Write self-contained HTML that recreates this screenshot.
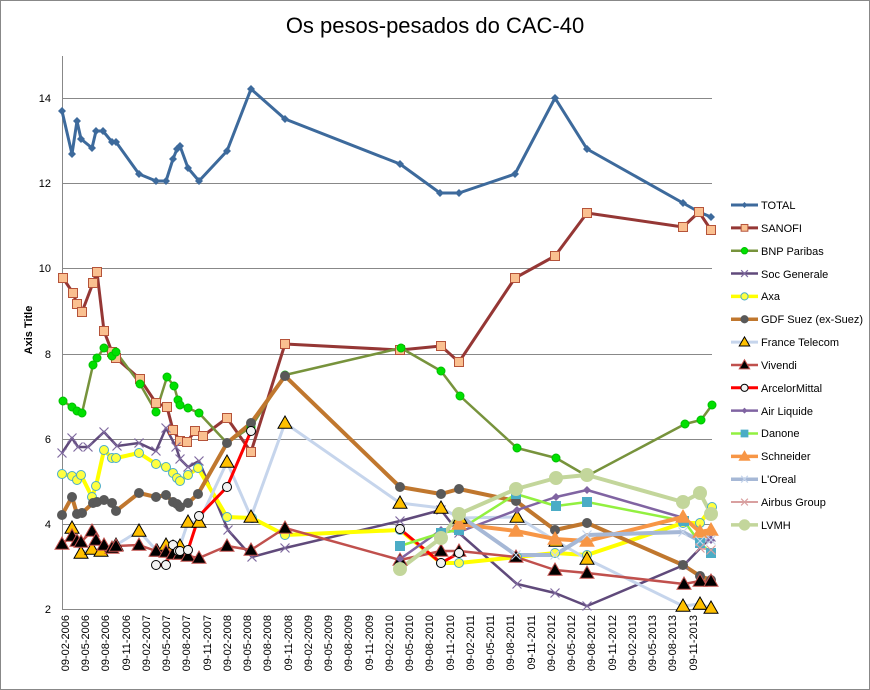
<!DOCTYPE html>
<html><head><meta charset="utf-8"><style>
html,body{margin:0;padding:0;background:#fff}
svg{display:block;font-family:"Liberation Sans",sans-serif}
</style></head><body>
<svg id="s" width="870" height="690" viewBox="0 0 870 690" xmlns="http://www.w3.org/2000/svg">
<rect x="0.5" y="0.5" width="869" height="689" fill="#fff" stroke="#888"/>
<text x="435" y="33" font-size="22" text-anchor="middle" fill="#000">Os pesos-pesados do CAC-40</text>
<text transform="translate(32,330) rotate(-90)" font-size="11" font-weight="bold" text-anchor="middle">Axis Title</text>
<g stroke="#888" stroke-width="1">
<line x1="62" y1="524.5" x2="712" y2="524.5"/><line x1="62" y1="439.5" x2="712" y2="439.5"/>
<line x1="62" y1="354.5" x2="712" y2="354.5"/><line x1="62" y1="268.5" x2="712" y2="268.5"/>
<line x1="62" y1="183.5" x2="712" y2="183.5"/><line x1="62" y1="98.5" x2="712" y2="98.5"/>
<line x1="62.5" y1="56" x2="62.5" y2="609"/><line x1="62" y1="609.5" x2="712" y2="609.5"/>
</g>
<g font-size="11" text-anchor="end" fill="#000">
<text x="51" y="613">2</text><text x="51" y="528">4</text><text x="51" y="443">6</text>
<text x="51" y="358">8</text><text x="51" y="272">10</text><text x="51" y="187">12</text><text x="51" y="102">14</text>
</g>
<g id="series"></g>
<g id="legend" font-size="11">
<text x="761" y="209">TOTAL</text><text x="761" y="232">SANOFI</text><text x="761" y="255">BNP Paribas</text>
<text x="761" y="278">Soc Generale</text><text x="761" y="300">Axa</text><text x="761" y="323">GDF Suez (ex-Suez)</text>
<text x="761" y="346">France Telecom</text><text x="761" y="369">Vivendi</text><text x="761" y="392">ArcelorMittal</text>
<text x="761" y="415">Air Liquide</text><text x="761" y="437">Danone</text><text x="761" y="460">Schneider</text>
<text x="761" y="483">L'Oreal</text><text x="761" y="506">Airbus Group</text><text x="761" y="529">LVMH</text>
</g>
<g font-size="11" text-anchor="end">
<text transform="translate(69,615) rotate(-90)">09-02-2006</text><text transform="translate(89,615) rotate(-90)">09-05-2006</text><text transform="translate(109,615) rotate(-90)">09-08-2006</text><text transform="translate(130,615) rotate(-90)">09-11-2006</text><text transform="translate(150,615) rotate(-90)">09-02-2007</text><text transform="translate(170,615) rotate(-90)">09-05-2007</text><text transform="translate(190,615) rotate(-90)">09-08-2007</text><text transform="translate(211,615) rotate(-90)">09-11-2007</text><text transform="translate(231,615) rotate(-90)">09-02-2008</text><text transform="translate(251,615) rotate(-90)">09-05-2008</text><text transform="translate(271,615) rotate(-90)">09-08-2008</text><text transform="translate(292,615) rotate(-90)">09-11-2008</text><text transform="translate(312,615) rotate(-90)">09-02-2009</text><text transform="translate(332,615) rotate(-90)">09-05-2009</text><text transform="translate(352,615) rotate(-90)">09-08-2009</text><text transform="translate(373,615) rotate(-90)">09-11-2009</text><text transform="translate(393,615) rotate(-90)">09-02-2010</text><text transform="translate(413,615) rotate(-90)">09-05-2010</text><text transform="translate(433,615) rotate(-90)">09-08-2010</text><text transform="translate(454,615) rotate(-90)">09-11-2010</text><text transform="translate(474,615) rotate(-90)">09-02-2011</text><text transform="translate(494,615) rotate(-90)">09-05-2011</text><text transform="translate(514,615) rotate(-90)">09-08-2011</text><text transform="translate(535,615) rotate(-90)">09-11-2011</text><text transform="translate(555,615) rotate(-90)">09-02-2012</text><text transform="translate(575,615) rotate(-90)">09-05-2012</text><text transform="translate(595,615) rotate(-90)">09-08-2012</text><text transform="translate(616,615) rotate(-90)">09-11-2012</text><text transform="translate(636,615) rotate(-90)">09-02-2013</text><text transform="translate(656,615) rotate(-90)">09-05-2013</text><text transform="translate(676,615) rotate(-90)">09-08-2013</text><text transform="translate(697,615) rotate(-90)">09-11-2013</text>
</g>
</svg>
<script>
var NS="http://www.w3.org/2000/svg";
var S=[
{c:"#3d6a9c",w:3,m:"d",mf:"#3d6a9c",ms:"#3d6a9c",p:[[62,111],[72,154],[77,121],[81,139],[92,148],[96,131],[103,131],[112,142],[116,142],[139,174],[156,181],[166,181],[173,159],[177,149],[180,146],[188,168],[199,181],[227,151],[251,89],[285,119],[400,164],[440,193],[459,193],[515,174],[555,98],[587,149],[683,203],[699,212],[711,217]]},
{c:"#953735",w:3,m:"s",mf:"#fac090",ms:"#b5533a",p:[[63,278],[73,293],[77,304],[82,312],[93,283],[97,272],[104,331],[112,352],[116,358],[140,379],[156,403],[167,407],[173,430],[180,441],[187,442],[195,431],[203,436],[227,418],[251,452],[285,344],[400,350],[441,346],[459,362],[515,278],[555,256],[587,213],[683,227],[699,212],[711,230]]},
{c:"#77933c",w:2.5,m:"c",r:4,mf:"#00e000",ms:"#00c000",p:[[63,401],[72,407],[77,411],[82,413],[93,365],[97,358],[104,348],[112,356],[116,352],[140,384],[156,412],[167,377],[174,386],[178,400],[180,405],[188,408],[199,413],[227,443],[251,427],[285,375],[401,348],[441,371],[460,396],[517,448],[556,458],[587,476],[685,424],[701,420],[712,405]]},
{c:"#604a7b",w:2.5,m:"x",mf:"none",ms:"#7f6aa0",p:[[62,453],[72,438],[78,447],[88,447],[104,432],[117,446],[139,443],[156,451],[166,428],[176,447],[180,459],[188,467],[199,461],[228,530],[252,557],[285,548],[400,521],[441,510],[459,533],[517,584],[555,593],[587,606],[684,565],[711,537]]},
{c:"#ffff00",w:4,m:"c",r:4.5,mf:"#ffff40",ms:"#4bacc6",p:[[62,474],[72,476],[77,480],[81,475],[92,497],[96,486],[104,450],[112,458],[116,458],[139,453],[156,464],[166,467],[173,473],[177,478],[180,481],[188,475],[198,468],[227,517],[252,518],[285,535],[400,530],[441,563],[459,563],[517,557],[555,553],[587,555],[683,523],[700,523],[712,507]]},
{c:"#c0772e",w:4,m:"c",r:4.5,mf:"#595959",ms:"#595959",p:[[62,515],[72,497],[77,514],[82,513],[93,503],[97,502],[104,500],[112,503],[116,511],[139,493],[156,497],[166,495],[173,502],[177,504],[180,507],[188,503],[198,494],[227,443],[251,423],[285,376],[400,487],[441,494],[459,489],[516,501],[555,530],[587,523],[683,565],[700,576],[711,580]]},
{c:"#c6d5ec",w:3,m:"t",mf:"#ffc000",ms:"#000",p:[[72,528],[81,553],[92,549],[101,551],[116,545],[139,531],[157,551],[166,545],[173,547],[180,546],[188,522],[199,522],[227,462],[251,517],[285,423],[400,503],[441,508],[460,518],[517,517],[556,541],[587,559],[683,606],[700,604],[711,608]]},
{c:"#c0504d",w:2.5,m:"t",mf:"#000",ms:"#c0504d",p:[[62,544],[72,536],[77,541],[81,542],[92,531],[96,540],[104,545],[112,548],[116,546],[139,545],[156,551],[166,552],[173,554],[180,554],[188,556],[199,558],[227,546],[251,550],[285,528],[400,560],[441,551],[459,551],[516,557],[555,570],[587,573],[684,584],[700,581],[711,581]]},
{c:"#ff0000",w:3,m:"c",r:4.5,mf:"#f2f2f2",ms:"#000",p:[[156,565],[166,565],[173,545],[178,551],[180,551],[188,550],[199,516],[227,487],[251,431]]},
{c:"#ff0000",w:3,m:"c",r:4.5,mf:"#f2f2f2",ms:"#000",p:[[400,529],[441,563],[459,553]]},
{c:"#8064a2",w:2.5,m:"d",mf:"#8064a2",ms:"#8064a2",p:[[400,559],[441,530],[459,532],[517,510],[556,497],[587,490],[684,518],[711,540]]},
{c:"#92f040",w:2.5,m:"s",mf:"#4bacc6",ms:"#4bacc6",p:[[400,546],[441,533],[459,530],[516,494],[556,506],[587,502],[684,521],[700,543],[711,553]]},
{c:"#f79646",w:4,m:"t",mf:"#f79646",ms:"#f79646",p:[[459,524],[516,531],[555,539],[587,541],[683,517],[700,532],[711,530]]},
{c:"#a6b8d6",w:4,m:"x",mf:"none",ms:"#c6d5ec",p:[[459,515],[516,555],[555,555],[587,535],[683,532],[700,541],[711,540]]},
{c:"#d9a0a0",w:2,m:"x",mf:"none",ms:"#d9a0a0",p:[[700,548],[711,550]]},
{c:"#c3d69b",w:4,m:"c",r:6.5,mf:"#c3d69b",ms:"#c3d69b",p:[[400,569],[441,538],[459,514],[516,489],[556,478],[587,475],[683,502],[700,493],[711,514]]}
];
function el(t,a,par){var e=document.createElementNS(NS,t);for(var k in a)e.setAttribute(k,a[k]);par.appendChild(e);return e;}
function marker(s,x,y,g,scale){
 scale=scale||1;
 if(s.m=="d"){var r=4*scale;el("polygon",{points:[x,y-r,x+r,y,x,y+r,x-r,y].join(" "),fill:s.mf},g);}
 else if(s.m=="s"){var r=4.5*scale;el("rect",{x:x-r,y:y-r,width:2*r,height:2*r,fill:s.mf,stroke:s.ms,"stroke-width":1},g);}
 else if(s.m=="c"){var r=(s.r||4)*(scale<1?0.8:1);el("circle",{cx:x,cy:y,r:r,fill:s.mf,stroke:s.ms,"stroke-width":1},g);}
 else if(s.m=="t"){var r=7*scale;el("polygon",{points:[x,y-r,x+r,y+r*0.75,x-r,y+r*0.75].join(" "),fill:s.mf,stroke:s.ms,"stroke-width":1},g);}
 else if(s.m=="x"){var r=4.5*scale;el("path",{d:"M"+(x-r)+" "+(y-r)+"L"+(x+r)+" "+(y+r)+"M"+(x-r)+" "+(y+r)+"L"+(x+r)+" "+(y-r),stroke:s.ms,"stroke-width":1.2,fill:"none"},g);}
}
var G=document.getElementById("series");
S.forEach(function(s){
 el("polyline",{points:s.p.map(function(q){return q.join(",")}).join(" "),fill:"none",stroke:s.c,"stroke-width":s.w,"stroke-linejoin":"round"},G);
});
S.forEach(function(s){var g=el("g",{},G);s.p.forEach(function(q){marker(s,q[0],q[1],g);});});
var L=document.getElementById("legend");
var li=[0,1,2,3,4,5,6,7,8,10,11,12,13,14,15];
li.forEach(function(i,k){var s=S[i];var y=205+22.85*k;
 el("line",{x1:731,y1:y,x2:758,y2:y,stroke:s.c,"stroke-width":Math.min(s.w,3.5)},L);
 marker(s,744.5,y,L,0.75);});
</script>
</body></html>
